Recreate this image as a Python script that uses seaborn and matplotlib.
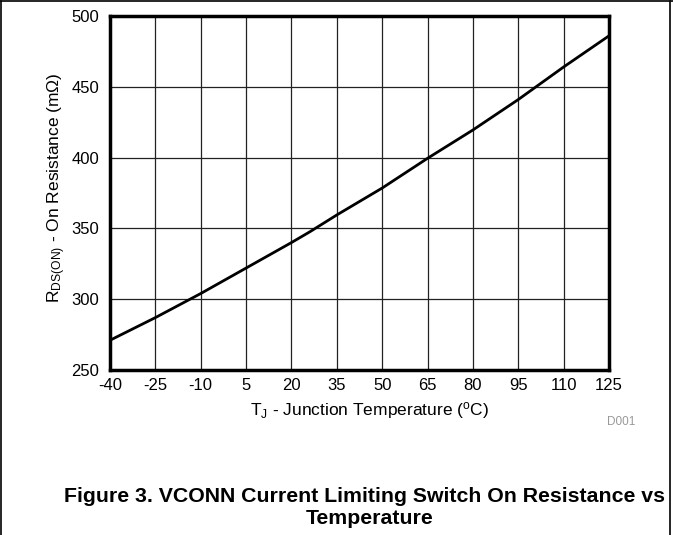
import matplotlib
matplotlib.use("Agg")
import matplotlib.pyplot as plt
from matplotlib.lines import Line2D
import seaborn as sns
import pandas as pd

temps = [-40, -25, -10, 5, 20, 26, 35, 50, 65, 80, 95, 110, 125]
rdson = [271, 287, 304, 322, 340, 347.5, 359.5, 378.5, 399.5, 419.5, 441, 464, 486]
xticks = [-40, -25, -10, 5, 20, 35, 50, 65, 80, 95, 110, 125]
yticks = [250, 300, 350, 400, 450, 500]

sns.set_theme(style="white")
plt.rcParams['font.family'] = ['Liberation Sans', 'DejaVu Sans']
plt.rcParams['mathtext.fontset'] = 'custom'
plt.rcParams['mathtext.rm'] = 'Liberation Sans'
plt.rcParams['mathtext.it'] = 'Liberation Sans'

W, H = 673, 535
fig = plt.figure(figsize=(W / 100, H / 100), dpi=100)
ax = fig.add_axes([110 / W, 1 - 370 / H, 499 / W, 354 / H])

df = pd.DataFrame({"T": temps, "R": rdson})
sns.lineplot(data=df, x="T", y="R", ax=ax, color="black", linewidth=2, zorder=3)

ax.set_xlim(-40, 125)
ax.set_ylim(250, 500)
ax.set_xticks(xticks)
ax.set_yticks(yticks)
ax.set_xticklabels([str(t) for t in xticks])
ax.set_yticklabels([str(t) for t in yticks])
ax.tick_params(axis="both", length=0, labelsize=12, colors="black")
ax.tick_params(axis="x", pad=6)
ax.tick_params(axis="y", pad=8)
ax.grid(True, color="#222222", linewidth=0.9)
for s in ax.spines.values():
    s.set_visible(True)
    s.set_color("black")
    s.set_linewidth(2.5)
    s.set_zorder(4)

ax.set_xlabel(r"T$_\mathregular{J}$ - Junction Temperature ($^\mathregular{o}$C)", fontsize=12.5, color="black")
ax.xaxis.set_label_coords((370 - 110) / 499, (370 - 400) / 354)
ax.set_ylabel(r"R$_\mathregular{DS(ON)}$ - On Resistance (m$\Omega$)", fontsize=12.5, color="black")
ax.yaxis.set_label_coords((68 - 110) / 499, (370 - 188) / 354)

fig.text(621 / W, 1 - 422 / H, "D001", fontsize=8.5, color="#999999", ha="center", va="center")
fig.text(364 / W, 1 - 497 / H, "Figure 3. VCONN Current Limiting Switch On Resistance vs",
         fontsize=15.3, fontweight="bold", ha="center", va="center", color="black")
fig.text(370 / W, 1 - 518 / H, "Temperature",
         fontsize=15.3, fontweight="bold", ha="center", va="center", color="black")

# figure border (top, left, right)
fig.add_artist(Line2D([0.5 / W, 0.5 / W], [0, 1 - 1 / H], transform=fig.transFigure, color="black", lw=1.2))
fig.add_artist(Line2D([0, 1], [1 - 1 / H, 1 - 1 / H], transform=fig.transFigure, color="black", lw=1.2))
fig.add_artist(Line2D([670 / W, 670 / W], [0, 1 - 1 / H], transform=fig.transFigure, color="black", lw=1.2))

fig.savefig("out.png", dpi=100)
